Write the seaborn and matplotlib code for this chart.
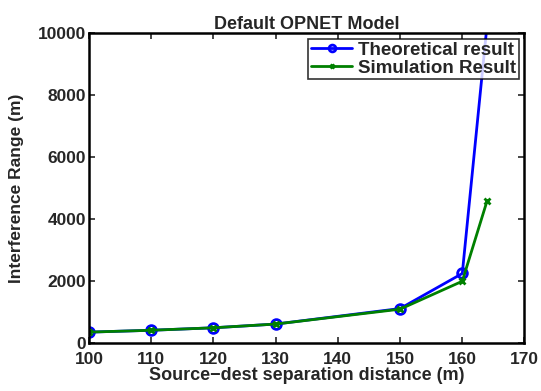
import pandas as pd
import numpy as np
import matplotlib
matplotlib.use('Agg')
import matplotlib.pyplot as plt
import seaborn as sns

# datos
dist_teo = [100, 110, 120, 130, 150, 160, 164]
rango_teo = [360, 420, 500, 620, 1120, 2250, 10300]
dist_sim = [100, 110, 120, 130, 150, 160, 164]
rango_sim = [360, 420, 500, 620, 1100, 2000, 4600]

df_teo = pd.DataFrame({'x': dist_teo, 'y': rango_teo})
df_sim = pd.DataFrame({'x': dist_sim, 'y': rango_sim})

sns.set_style("white")
plt.rcParams['font.family'] = ['Liberation Sans', 'DejaVu Sans']
plt.rcParams['font.weight'] = 'bold'

fs = 12.5

fig = plt.figure(figsize=(5.41, 3.91), dpi=100)
ax = fig.add_axes([0.1645, 0.122, 0.805, 0.7935])

sns.lineplot(data=df_teo, x='x', y='y', ax=ax, color='#0000ff', lw=2,
             marker='o', markersize=7, markerfacecolor='none',
             markeredgecolor='#0000ff', markeredgewidth=2,
             label='Theoretical result', sort=False)
sns.lineplot(data=df_sim, x='x', y='y', ax=ax, color='#008000', lw=2,
             marker='x', markersize=4, markeredgewidth=2,
             markeredgecolor='#008000',
             label='Simulation Result', sort=False)

ax.set_xlim(100, 170)
ax.set_ylim(0, 10000)
ax.set_xticks(np.arange(100, 171, 10))
ax.set_yticks(np.arange(0, 10001, 2000))
ax.tick_params(direction='in', length=4, width=1.2, labelsize=fs, pad=2,
               top=True, right=True, bottom=True, left=True)
ax.tick_params(axis='x', pad=6.5)
for lab in ax.get_xticklabels() + ax.get_yticklabels():
    lab.set_fontweight('bold')
for s in ax.spines.values():
    s.set_linewidth(1.8)
    s.set_color('black')

ax.set_title('Default OPNET Model', fontsize=13, fontweight='bold', pad=3)
ax.set_xlabel('Source\u2212dest separation distance (m)', fontsize=13,
              fontweight='bold', labelpad=0)
ax.set_ylabel('Interference Range (m)', fontsize=fs, fontweight='bold',
              labelpad=10)

leg = ax.legend(loc='upper right', fontsize=13.5, frameon=True, fancybox=False,
                borderaxespad=0.3, handlelength=2.2, borderpad=0.15,
                labelspacing=0.05, handletextpad=0.3, markerscale=0.7)
leg.get_frame().set_edgecolor('black')
leg.get_frame().set_linewidth(1.2)
for t in leg.get_texts():
    t.set_fontweight('bold')

fig.savefig('out.png', dpi=100)
